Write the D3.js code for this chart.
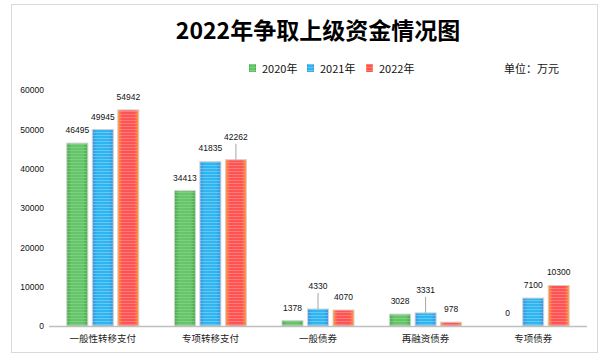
<!DOCTYPE html>
<html>
<head>
<meta charset="utf-8">
<style>
  body { margin: 0; background: #fff; font-family: "Noto Sans CJK SC", "Noto Sans", sans-serif; }
  svg { display: block; }
</style>
</head>
<body>
<script src="https://cdn.jsdelivr.net/npm/d3@7"></script>
<script>
// data
var categories = ["一般性转移支付", "专项转移支付", "一般债券", "再融资债券", "专项债券"];
var years = ["2020年", "2021年", "2022年"];
var values2020 = [46495, 34413, 1378, 3028, 0];
var values2021 = [49945, 41835, 4330, 3331, 7100];
var values2022 = [54942, 42262, 4070, 978, 10300];
var yTicks = [0, 10000, 20000, 30000, 40000, 50000, 60000];
// labels pulled up with a leader line: [category, year]
var leaders = [["专项转移支付", "2022年"], ["一般债券", "2021年"], ["再融资债券", "2021年"]];

var series = [values2020, values2021, values2022];
var rows = [];
categories.forEach(function(c, i) {
  years.forEach(function(y, j) {
    rows.push({cat: c, year: y, value: series[j][i]});
  });
});

var W = 613, H = 360;
var svg = d3.select("body").append("svg").attr("width", W).attr("height", H);

// fills: horizontal gradient + stripes
var fills = {
  "2020年": {edge: "#45a847", mid: "#66c46a", stripe: "#8fd993"},
  "2021年": {edge: "#3b8fdc", mid: "#2fb5f0", stripe: "#8fd4f7"},
  "2022年": {edge: "#ff9a2a", mid: "#ff5252", stripe: "#ff9a9a"}
};
var defs = svg.append("defs");
years.forEach(function(y, i) {
  var g = defs.append("linearGradient").attr("id", "grad" + i)
      .attr("x1", "0").attr("x2", "1").attr("y1", "0").attr("y2", "0");
  g.append("stop").attr("offset", "0%").attr("stop-color", fills[y].edge);
  g.append("stop").attr("offset", "22%").attr("stop-color", fills[y].mid);
  g.append("stop").attr("offset", "78%").attr("stop-color", fills[y].mid);
  g.append("stop").attr("offset", "100%").attr("stop-color", fills[y].edge);
  var p = defs.append("pattern").attr("id", "stripe" + i)
      .attr("patternUnits", "userSpaceOnUse").attr("width", 4).attr("height", 3);
  p.append("rect").attr("width", 4).attr("height", 1).attr("fill", fills[y].stripe).attr("opacity", 0.55);
});

// frame
svg.append("rect").attr("x", 11.5).attr("y", 4.5).attr("width", 586).attr("height", 348)
  .attr("fill", "none").attr("stroke", "#d9d9d9");

// title
svg.append("text").attr("x", 318).attr("y", 39).attr("text-anchor", "middle")
  .style("font-size", "23px").style("font-weight", "bold").style("fill", "#000")
  .text("2022年争取上级资金情况图");

// scales
var x0 = d3.scaleBand().domain(categories).range([49, 587]);
var x1 = d3.scaleBand().domain(years).range([-36, 36]).paddingInner(0.1765);
var y = d3.scaleLinear().domain([0, 60000]).range([326, 90]);

// y axis labels
var yAxis = svg.append("g").attr("transform", "translate(44,0)")
  .call(d3.axisLeft(y).tickValues(yTicks).tickFormat(d3.format("d")).tickSize(0).tickPadding(0));
yAxis.select(".domain").remove();
yAxis.selectAll("text").style("font-size", "8.5px").style("fill", "#111")
  .style("font-family", "'Liberation Sans', sans-serif");

// bars
var bars = svg.append("g").selectAll("g").data(rows).enter().append("g");
bars.append("rect")
  .attr("x", function(d) { return x0(d.cat) + x0.bandwidth() / 2 + x1(d.year); })
  .attr("y", function(d) { return y(d.value); })
  .attr("width", x1.bandwidth())
  .attr("height", function(d) { return y(0) - y(d.value); })
  .attr("fill", function(d) { return "url(#grad" + years.indexOf(d.year) + ")"; })
  .attr("stroke", function(d) { return d.value > 0 ? "#d4d4d4" : "none"; })
  .attr("stroke-width", 1);
bars.append("rect")
  .attr("x", function(d) { return x0(d.cat) + x0.bandwidth() / 2 + x1(d.year); })
  .attr("y", function(d) { return y(d.value); })
  .attr("width", x1.bandwidth())
  .attr("height", function(d) { return y(0) - y(d.value); })
  .attr("fill", function(d) { return "url(#stripe" + years.indexOf(d.year) + ")"; });

// x axis line
svg.append("line").attr("x1", 49).attr("x2", 587).attr("y1", 326.5).attr("y2", 326.5)
  .attr("stroke", "#bfbfbf").attr("stroke-width", 1.5);

// category labels
svg.append("g").selectAll("text").data(categories).enter().append("text")
  .attr("x", function(d) { return x0(d) + x0.bandwidth() / 2; })
  .attr("y", 342).attr("text-anchor", "middle")
  .style("font-size", "9.5px").style("fill", "#222")
  .text(function(d) { return d; });

// value labels
function isLeader(d) {
  return leaders.some(function(l) { return l[0] === d.cat && l[1] === d.year; });
}
var cx = function(d) { return x0(d.cat) + x0.bandwidth() / 2 + x1(d.year) + x1.bandwidth() / 2; };
var lab = svg.append("g");
lab.selectAll("line").data(rows.filter(isLeader)).enter().append("line")
  .attr("x1", cx).attr("x2", cx)
  .attr("y1", function(d) { return y(d.value) - 16; })
  .attr("y2", function(d) { return y(d.value); })
  .attr("stroke", "#a6a6a6").attr("stroke-width", 1);
lab.selectAll("text").data(rows).enter().append("text")
  .attr("x", cx)
  .attr("y", function(d) { return y(d.value) - (isLeader(d) ? 20 : 10); })
  .attr("text-anchor", "middle")
  .style("font-size", "8.5px").style("fill", "#111")
  .style("font-family", "'Liberation Sans', sans-serif")
  .text(function(d) { return d.value; });

// legend
var legX = [249, 307, 366];
var leg = svg.append("g").selectAll("g").data(years).enter().append("g")
  .attr("transform", function(d, i) { return "translate(" + legX[i] + ",64)"; });
leg.append("rect").attr("width", 7).attr("height", 8)
  .attr("fill", function(d, i) { return "url(#grad" + i + ")"; });
leg.append("rect").attr("width", 7).attr("height", 8)
  .attr("fill", function(d, i) { return "url(#stripe" + i + ")"; });
leg.append("text").attr("x", 13).attr("y", 8.5)
  .style("font-size", "11px").style("fill", "#111")
  .text(function(d) { return d; });

svg.append("text").attr("x", 504).attr("y", 73)
  .style("font-size", "11px").style("fill", "#111")
  .text("单位：万元");
</script>
</body>
</html>
